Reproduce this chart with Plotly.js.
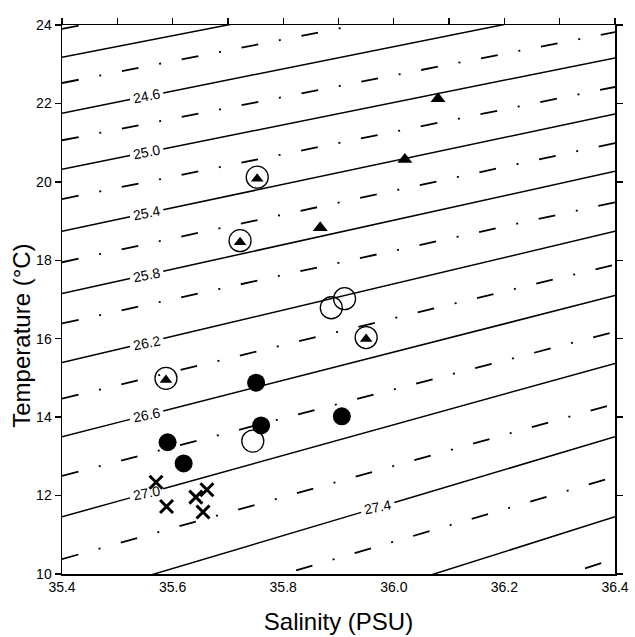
<!DOCTYPE html>
<html>
<head>
<meta charset="utf-8">
<script src="https://cdn.plot.ly/plotly-3.0.1.min.js"></script>
<style>html,body{margin:0;padding:0;background:#fff;}#chart{width:635px;height:637px;}</style>
</head>
<body>
<div id="chart"></div>
<script>
// ---- axis ranges and ticks ----
const salinityRange = [35.4, 36.4];
const temperatureRange = [10, 24];
const salinityTicks = [35.4, 35.6, 35.8, 36.0, 36.2, 36.4];
const temperatureTicks = [10, 12, 14, 16, 18, 20, 22, 24];

// ---- isopycnals (sigma-t), temperature read where each meets S = 35.4 and S = 36.4 ----
const isoSalinity = [35.4, 36.4];
const sigmaSolid   = [24.2, 24.6, 25.0, 25.4, 25.8, 26.2, 26.6, 27.0, 27.4, 27.8];
const tSolidLeft   = [23.18, 21.75, 20.32, 18.74, 17.15, 15.39, 13.50, 11.46, 9.30, 7.00];
const tSolidRight  = [25.92, 24.58, 23.16, 21.73, 20.27, 18.74, 17.10, 15.37, 13.50, 11.46];

const sigmaDashDot  = [24.0, 24.4, 24.8, 25.2, 25.6, 26.0, 26.4, 26.8, 27.2, 27.6, 28.0];
const tDashDotLeft  = [23.90, 22.52, 21.06, 19.56, 17.95, 16.39, 14.47, 12.50, 10.38, 8.34, 5.89];
const tDashDotRight = [26.60, 25.30, 23.82, 22.42, 20.99, 19.48, 17.89, 16.18, 14.34, 12.48, 10.39];

// labelled isopycnals
const labelSigma = [24.6, 25.0, 25.4, 25.8, 26.2, 26.6, 27.0, 27.4];

// ---- observations ----
const triangleS = [36.08, 36.02, 35.867];
const triangleT = [22.12, 20.57, 18.83];

const circledTriangleS = [35.753, 35.722, 35.588, 35.950];
const circledTriangleT = [20.12, 18.50, 14.99, 16.03];

const openCircleS = [35.887, 35.911, 35.745];
const openCircleT = [16.79, 17.02, 13.39];

const filledCircleS = [35.751, 35.760, 35.906, 35.591, 35.620];
const filledCircleT = [14.88, 13.79, 14.02, 13.36, 12.82];

const crossS = [35.570, 35.589, 35.642, 35.662, 35.655];
const crossT = [12.34, 11.72, 11.96, 12.15, 11.58];

// ---- helpers ----
const FONT = '"Liberation Sans", Arial, Helvetica, sans-serif';
const LABEL_HALF_GAP = 0.030;   // half width of the break cut for a label (salinity units)
function labelSalinity(s) { return s === 27.4 ? 35.971 : 35.553; }
function interp(tl, tr, sal) {
  const f = (sal - isoSalinity[0]) / (isoSalinity[1] - isoSalinity[0]);
  return tl + f * (tr - tl);
}

const traces = [];

// solid isopycnals (broken where they carry a label)
sigmaSolid.forEach((s, i) => {
  let xs = isoSalinity.slice(), ys = [tSolidLeft[i], tSolidRight[i]];
  if (labelSigma.includes(s)) {
    const c = labelSalinity(s);
    const a = c - LABEL_HALF_GAP, b = c + LABEL_HALF_GAP;
    xs = [isoSalinity[0], a, null, b, isoSalinity[1]];
    ys = [tSolidLeft[i], interp(tSolidLeft[i], tSolidRight[i], a), null,
          interp(tSolidLeft[i], tSolidRight[i], b), tSolidRight[i]];
  }
  traces.push({x: xs, y: ys, mode: 'lines', connectgaps: false,
    name: 'σt ' + s.toFixed(1), line: {color: '#000', width: 1.5}, hoverinfo: 'skip'});
});
// dash-dot isopycnals
sigmaDashDot.forEach((s, i) => {
  traces.push({x: isoSalinity, y: [tDashDotLeft[i], tDashDotRight[i]],
    mode: 'lines', name: 'σt ' + s.toFixed(1),
    line: {color: '#000', width: 1.8, dash: '17px,21px,2px,21px'}, hoverinfo: 'skip'});
});

// contour labels as text (below the markers)
const labelX = labelSigma.map(labelSalinity);
const labelY = labelSigma.map((s, k) => {
  const i = sigmaSolid.indexOf(s);
  return interp(tSolidLeft[i], tSolidRight[i], labelX[k]);
});

traces.push({x: filledCircleS, y: filledCircleT, mode: 'markers',
  marker: {symbol: 'circle', size: 18, color: '#000'}});
traces.push({x: openCircleS, y: openCircleT, mode: 'markers',
  marker: {symbol: 'circle-open', size: 22, color: '#000', line: {width: 1.3, color: '#000'}}});
traces.push({x: circledTriangleS, y: circledTriangleT, mode: 'markers',
  marker: {symbol: 'circle-open', size: 22, color: '#000', line: {width: 1.3, color: '#000'}}});
traces.push({x: circledTriangleS, y: circledTriangleT.map(t => t - 0.04), mode: 'markers',
  marker: {symbol: 'triangle-up', size: 11, color: '#000'}});
traces.push({x: triangleS, y: triangleT, mode: 'markers',
  marker: {symbol: 'triangle-up', size: 13, color: '#000'}});
traces.push({x: crossS, y: crossT, mode: 'markers',
  marker: {symbol: 'x-thin-open', size: 13, color: '#000', line: {width: 3, color: '#000'}}});

// helper trace for the top / right frame axes
traces.push({x: [salinityRange[0]], y: [temperatureRange[0]], xaxis: 'x2', yaxis: 'y2',
  mode: 'markers', marker: {opacity: 0}, hoverinfo: 'skip'});

const annotations = labelSigma.map((s, k) => ({
  x: labelX[k], y: labelY[k], xref: 'x', yref: 'y',
  text: s.toFixed(1), showarrow: false, textangle: -11,
  font: {family: FONT, size: 14, color: '#000'}
}));
annotations.push({
  x: 0, xref: 'paper', xshift: -40, xanchor: 'center',
  y: 0.434, yref: 'paper', yanchor: 'middle',
  text: 'Temperature (°C)', textangle: -90, showarrow: false,
  font: {family: FONT, size: 24, color: '#000'}
});

const axisCommon = {showgrid: false, zeroline: false, showline: true,
  linecolor: '#000', linewidth: 1.5, tickcolor: '#000', tickwidth: 1.3};

const layout = {
  width: 635, height: 637,
  margin: {l: 62, r: 20, t: 25, b: 63},
  paper_bgcolor: '#fff', plot_bgcolor: '#fff',
  showlegend: false,
  font: {family: FONT, color: '#000'},
  xaxis: Object.assign({}, axisCommon, {
    range: salinityRange, tickvals: salinityTicks, ticktext: salinityTicks.map(v => v.toFixed(1)),
    ticks: '', tickfont: {family: FONT, size: 14, color: '#000'},
    title: {text: 'Salinity (PSU)', font: {family: FONT, size: 24, color: '#000'}, standoff: 19}
  }),
  xaxis2: Object.assign({}, axisCommon, {
    range: salinityRange, overlaying: 'x', side: 'top', dtick: 0.1, tick0: 35.4,
    ticks: 'outside', ticklen: 6, showticklabels: false
  }),
  yaxis: Object.assign({}, axisCommon, {
    range: temperatureRange, tickvals: temperatureTicks,
    ticks: 'outside', ticklen: 6, tickfont: {family: FONT, size: 14, color: '#000'}
  }),
  yaxis2: Object.assign({}, axisCommon, {
    range: temperatureRange, overlaying: 'y', side: 'right', tickvals: temperatureTicks,
    ticks: 'outside', ticklen: 6, showticklabels: false
  }),
  annotations: annotations
};

Plotly.newPlot('chart', traces, layout, {staticPlot: true, displayModeBar: false});
</script>
</body>
</html>
